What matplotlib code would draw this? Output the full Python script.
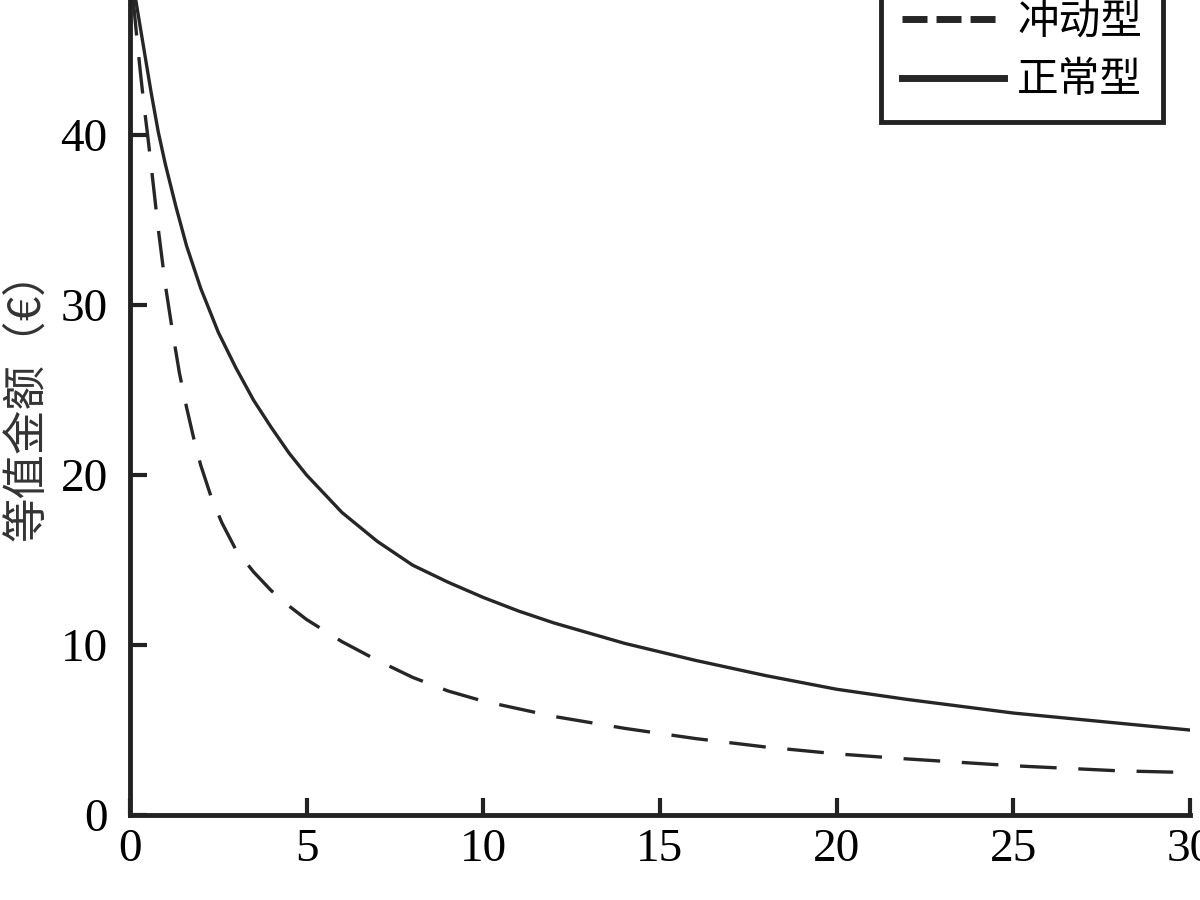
import matplotlib.pyplot as plt
import matplotlib as mpl

mpl.rcParams['font.family'] = ['Liberation Serif', 'Noto Sans CJK SC']
mpl.rcParams['font.size'] = 34

# values
delay_normal = [0, 0.2, 0.4, 0.6, 0.8, 1.0, 1.3, 1.6, 2.0, 2.5, 3, 3.5, 4, 4.5, 5, 6, 7, 8, 9,
                10, 11, 12, 14, 16, 18, 20, 22, 25, 28, 30]
value_normal = [50, 47.5, 45.0, 42.5, 40.2, 38.3, 35.8, 33.5, 31.0, 28.4, 26.3, 24.4, 22.8, 21.3,
                20.0, 17.8, 16.1, 14.7, 13.7, 12.8, 12.0, 11.3, 10.1, 9.1, 8.2, 7.4, 6.8, 6.0,
                5.4, 5.0]

delay_impulsive = [0, 0.1, 0.2, 0.3, 0.4, 0.5, 0.6, 0.8, 1.0, 1.2, 1.4, 1.6, 1.8, 2.0, 2.3, 2.6,
                   3.0, 3.5, 4, 4.5, 5, 6, 7, 8, 9, 10, 12, 14, 16, 18, 20, 22, 25, 28, 30]
value_impulsive = [50, 47.8, 45.6, 43.6, 41.7, 40.0, 38.2, 34.5, 31.2, 28.5, 26.0, 24.0, 22.2,
                   20.6, 18.7, 17.2, 15.6, 14.3, 13.2, 12.3, 11.5, 10.2, 9.1, 8.1, 7.3, 6.7,
                   5.8, 5.1, 4.5, 4.0, 3.6, 3.3, 2.9, 2.6, 2.5]

xticks = [0, 5, 10, 15, 20, 25, 30]
yticks = [0, 10, 20, 30, 40]

fig = plt.figure(figsize=(12, 9), dpi=100)
ax = fig.add_axes([0.1083, 0.0944, 0.8834, 0.9056])

ax.plot(delay_impulsive, value_impulsive, color='#262626', lw=2.4,
        linestyle=(0, (11, 6.5)), label='冲动型')
ax.plot(delay_normal, value_normal, color='#262626', lw=2.4, label='正常型')

ax.set_xlim(0, 30)
ax.set_ylim(0, 47.95)
ax.set_xticks(xticks)
ax.set_yticks(yticks)
ax.tick_params(direction='in', length=12, width=3, color='#222222')
ax.tick_params(axis='y', pad=16)
ax.tick_params(axis='x', pad=10)

for side in ['top', 'right']:
    ax.spines[side].set_visible(False)
for side in ['left', 'bottom']:
    ax.spines[side].set_linewidth(3.5)
    ax.spines[side].set_color('#222222')

ax.set_ylabel('等值金额（€）', family=['Noto Sans CJK SC', 'DejaVu Sans'],
              fontsize=32, color='#333333')
ax.yaxis.set_label_coords(-0.076, 0.515)

leg = ax.legend(loc='lower right', bbox_to_anchor=(1163 / 1200, 1 - 122 / 900),
                bbox_transform=fig.transFigure, borderaxespad=0,
                prop={'family': ['Noto Sans CJK SC'], 'size': 30},
                handlelength=2.45, handletextpad=0.31, fancybox=False,
                framealpha=1, edgecolor='#222222', borderpad=0.5, labelspacing=0.42)
leg.get_frame().set_linewidth(3.5)
handles = leg.get_lines()
for h in handles:
    h.set_linewidth(5)
handles[0].set_dashes([3.6, 1.3])

fig.savefig('out.png', dpi=100)
